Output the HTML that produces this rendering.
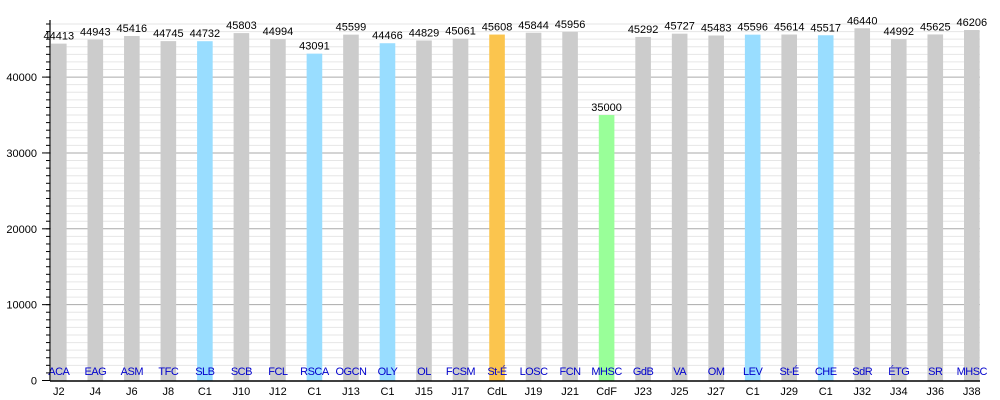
<!DOCTYPE html>
<html><head><meta charset="utf-8"><style>
html,body{margin:0;padding:0;background:#fff;width:1000px;height:400px;overflow:hidden}
svg text{font-family:"Liberation Sans",sans-serif;font-size:11px}
</style></head><body>
<svg id="c" width="1000" height="400" xmlns="http://www.w3.org/2000/svg"></svg>
<script>
var d=[["J2","ACA",44413,"g"],["J4","EAG",44943,"g"],["J6","ASM",45416,"g"],["J8","TFC",44745,"g"],["C1","SLB",44732,"b"],["J10","SCB",45803,"g"],["J12","FCL",44994,"g"],["C1","RSCA",43091,"b"],["J13","OGCN",45599,"g"],["C1","OLY",44466,"b"],["J15","OL",44829,"g"],["J17","FCSM",45061,"g"],["CdL","St-É",45608,"o"],["J19","LOSC",45844,"g"],["J21","FCN",45956,"g"],["CdF","MHSC",35000,"v"],["J23","GdB",45292,"g"],["J25","VA",45727,"g"],["J27","OM",45483,"g"],["C1","LEV",45596,"b"],["J29","St-É",45614,"g"],["C1","CHE",45517,"b"],["J32","SdR",46440,"g"],["J34","ÉTG",44992,"g"],["J36","SR",45625,"g"],["J38","MHSC",46206,"g"]];
var col={g:"#cccccc",b:"#99ddff",o:"#fbc54e",v:"#99ff99"};
var s="",y0=380.5,k=0.007585,L=50,R=980;
for(var v=1000;v<=47000;v+=1000){var y=y0-v*k;if(v%10000==0)s+='<line x1="'+L+'" x2="'+R+'" y1="'+y+'" y2="'+y+'" stroke="#aaa" stroke-width="1"/>';else s+='<line x1="'+L+'" x2="'+R+'" y1="'+y+'" y2="'+y+'" stroke="#e6e6e6" stroke-width="1"/>';s+='<line x1="'+(L-4)+'" x2="'+L+'" y1="'+y+'" y2="'+y+'" stroke="#000"/>';}
for(var v=0;v<=40000;v+=10000){var y=y0-v*k;s+='<line x1="'+(L-8)+'" x2="'+L+'" y1="'+y+'" y2="'+y+'" stroke="#000"/>';s+='<text x="37" y="'+(y+4)+'" text-anchor="end">'+v+'</text>';}
for(var i=0;i<d.length;i++){var x=51+i*36.52,h=d[i][2]*k,cx=x+7.8;
s+='<rect x="'+x+'" y="'+(y0-h)+'" width="15.6" height="'+h+'" fill="'+col[d[i][3]]+'"/>';
s+='<text x="'+cx+'" y="'+(y0-h-4)+'" text-anchor="middle">'+d[i][2]+'</text>';
s+='<text x="'+cx+'" y="375" text-anchor="middle" fill="#0000cc" letter-spacing="-0.5">'+d[i][1]+'</text>';
s+='<text x="'+cx+'" y="395" text-anchor="middle">'+d[i][0]+'</text>';}
s+='<line x1="'+L+'" x2="'+L+'" y1="20" y2="381" stroke="#000" stroke-width="1.2"/>';
s+='<line x1="'+L+'" x2="'+R+'" y1="381" y2="381" stroke="#000" stroke-width="1.5"/>';
document.getElementById("c").innerHTML=s;
</script>
</body></html>
